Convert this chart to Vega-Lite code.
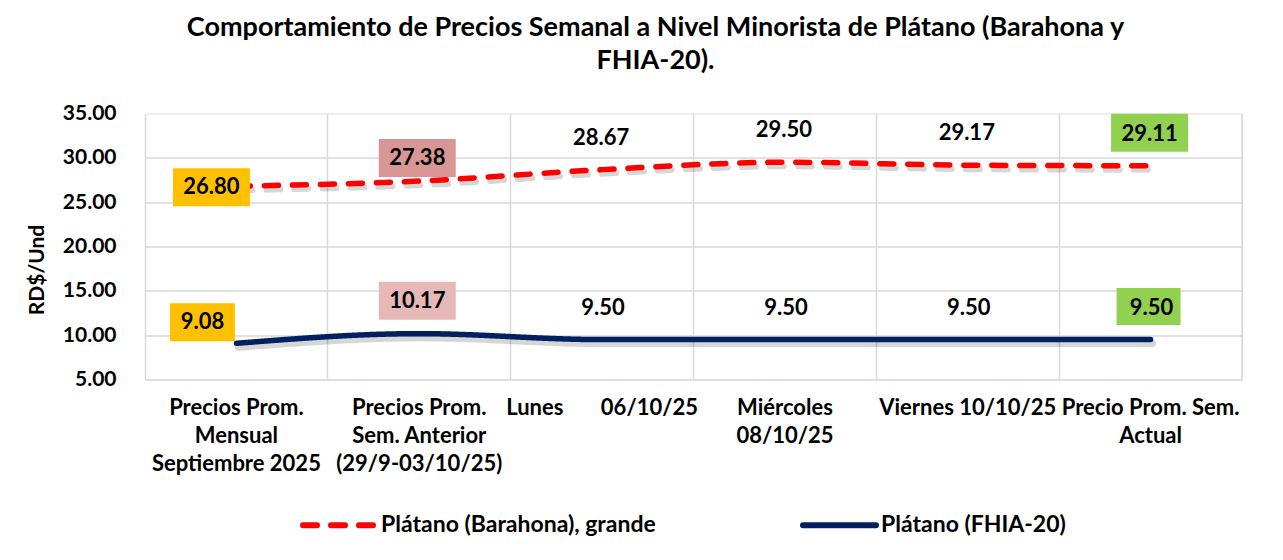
{
  "$schema": "https://vega.github.io/schema/vega-lite/v6.json",
  "autosize": "none",
  "width": 1097,
  "height": 266,
  "padding": {"left": 145, "top": 113.5, "right": 41, "bottom": 180.5},
  "background": "white",
  "title": {
    "text": ["Comportamiento de Precios Semanal a Nivel Minorista de Plátano (Barahona y", "FHIA-20)."],
    "font": "Lato",
    "fontSize": 27,
    "fontWeight": "bold",
    "color": "#000000",
    "anchor": "middle",
    "dx": -38,
    "offset": 28,
    "lineHeight": 33
  },
  "data": {
    "values": [
      {"cat": "Precios Prom.|Mensual|Septiembre 2025", "serie": "Plátano (Barahona), grande", "valor": 26.80},
      {"cat": "Precios Prom.|Sem. Anterior|(29/9-03/10/25)", "serie": "Plátano (Barahona), grande", "valor": 27.38},
      {"cat": "Lunes\u00a0\u00a0\u00a0\u00a0\u00a0\u00a0\u00a006/10/25", "serie": "Plátano (Barahona), grande", "valor": 28.67},
      {"cat": "Miércoles|08/10/25", "serie": "Plátano (Barahona), grande", "valor": 29.50},
      {"cat": "Viernes 10/10/25", "serie": "Plátano (Barahona), grande", "valor": 29.17},
      {"cat": "Precio Prom. Sem.|Actual", "serie": "Plátano (Barahona), grande", "valor": 29.11},
      {"cat": "Precios Prom.|Mensual|Septiembre 2025", "serie": "Plátano (FHIA-20)", "valor": 9.08},
      {"cat": "Precios Prom.|Sem. Anterior|(29/9-03/10/25)", "serie": "Plátano (FHIA-20)", "valor": 10.17},
      {"cat": "Lunes\u00a0\u00a0\u00a0\u00a0\u00a0\u00a0\u00a006/10/25", "serie": "Plátano (FHIA-20)", "valor": 9.50},
      {"cat": "Miércoles|08/10/25", "serie": "Plátano (FHIA-20)", "valor": 9.50},
      {"cat": "Viernes 10/10/25", "serie": "Plátano (FHIA-20)", "valor": 9.50},
      {"cat": "Precio Prom. Sem.|Actual", "serie": "Plátano (FHIA-20)", "valor": 9.50}
    ]
  },
  "encoding": {
    "x": {
      "field": "cat",
      "type": "nominal",
      "scale": {
        "domain": ["Precios Prom.|Mensual|Septiembre 2025", "Precios Prom.|Sem. Anterior|(29/9-03/10/25)", "Lunes\u00a0\u00a0\u00a0\u00a0\u00a0\u00a0\u00a006/10/25", "Miércoles|08/10/25", "Viernes 10/10/25", "Precio Prom. Sem.|Actual"],
        "paddingInner": 0,
        "paddingOuter": 0
      },
      "axis": {
        "title": null,
        "labelAngle": 0,
        "labelExpr": "split(datum.label, '|')",
        "labelFont": "Lato",
        "labelFontSize": 22,
        "labelFontWeight": "bold",
        "labelColor": "#000000",
        "labelPadding": 18,
        "labelLineHeight": 28,
        "labelLimit": 400,
        "labelOverlap": false,
        "labelBound": false,
        "domain": false,
        "ticks": false,
        "tickSize": 0,
        "grid": true,
        "bandPosition": 0,
        "gridColor": "#D9D9D9",
        "gridWidth": 1.5
      }
    },
    "y": {
      "field": "valor",
      "type": "quantitative",
      "scale": {"domain": [5, 35], "nice": false, "zero": false},
      "axis": {
        "title": "RD$/Und",
        "titleFont": "Lato",
        "titleFontSize": 21,
        "titleFontWeight": "bold",
        "titleColor": "#000000",
        "titleAngle": 270,
        "titleAlign": "center",
        "titleBaseline": "middle",
        "titleX": -108,
        "titleY": 156,
        "values": [5, 10, 15, 20, 25, 30, 35],
        "format": ".2f",
        "labelFont": "Lato",
        "labelFontSize": 21,
        "labelFontWeight": "bold",
        "labelColor": "#000000",
        "labelPadding": 29,
        "domain": false,
        "ticks": false,
        "tickSize": 0,
        "grid": true,
        "gridColor": "#D9D9D9",
        "gridWidth": 1.5,
        "gridOpacity": {"condition": {"test": "datum.value == 35", "value": 0}, "value": 1}
      }
    }
  },
  "layer": [
    {
      "transform": [{"filter": {"field": "cat", "equal": "Precio Prom. Sem.|Actual"}}, {"filter": {"field": "serie", "equal": "Plátano (FHIA-20)"}}],
      "mark": {"type": "rule", "color": "#D9D9D9", "strokeWidth": 1.5},
      "encoding": {"x": {"field": "cat", "type": "nominal", "bandPosition": 1}, "y": null}
    },
    {
      "transform": [{"filter": {"field": "serie", "equal": "Plátano (Barahona), grande"}}],
      "mark": {"type": "line", "interpolate": "monotone", "stroke": "#000000", "opacity": 0.16, "strokeWidth": 6, "strokeDash": [14, 14], "strokeCap": "round", "xOffset": 2, "yOffset": 4}
    },
    {
      "transform": [{"filter": {"field": "serie", "equal": "Plátano (FHIA-20)"}}],
      "mark": {"type": "line", "interpolate": "monotone", "stroke": "#000000", "opacity": 0.16, "strokeWidth": 7, "strokeCap": "round", "xOffset": 2, "yOffset": 4}
    },
    {
      "mark": {"type": "line", "interpolate": "monotone", "strokeWidth": 5.5, "strokeCap": "round"},
      "encoding": {
        "color": {
          "field": "serie",
          "type": "nominal",
          "scale": {"domain": ["Plátano (Barahona), grande", "Plátano (FHIA-20)"], "range": ["#FF0000", "#002060"]},
          "legend": {
            "title": null,
            "orient": "none",
            "legendX": 155,
            "legendY": 372,
            "direction": "horizontal",
            "symbolType": "stroke",
            "symbolSize": 5329,
            "symbolStrokeWidth": 6,
            "labelFont": "Lato",
            "labelFontSize": 23,
            "labelFontWeight": "bold",
            "labelColor": "#000000",
            "labelOffset": 2,
            "labelLimit": 400,
            "columnPadding": 135,
            "encode": {"symbols": {"update": {"strokeCap": {"value": "round"}}}}
          }
        },
        "strokeDash": {
          "field": "serie",
          "type": "nominal",
          "scale": {"domain": ["Plátano (Barahona), grande", "Plátano (FHIA-20)"], "range": [[14, 14], [1, 0]]}
        }
      }
    },
    {
      "transform": [{"filter": {"field": "serie", "equal": "Plátano (Barahona), grande"}}, {"filter": {"field": "cat", "equal": "Precios Prom.|Mensual|Septiembre 2025"}}],
      "layer": [
        {"mark": {"type": "point", "shape": "M-1,-0.494L1,-0.494L1,0.494L-1,0.494Z", "size": 5929, "filled": true, "fill": "#FFC000", "opacity": 1, "strokeWidth": 0, "xOffset": -25, "yOffset": 1}},
        {"mark": {"type": "text", "font": "Lato", "fontSize": 22, "fontWeight": "bold", "color": "#000000", "align": "center", "baseline": "middle", "xOffset": -25, "yOffset": 1}, "encoding": {"text": {"field": "valor", "type": "quantitative", "format": ".2f"}}}
      ]
    },
    {
      "transform": [{"filter": {"field": "serie", "equal": "Plátano (Barahona), grande"}}, {"filter": {"field": "cat", "equal": "Precios Prom.|Sem. Anterior|(29/9-03/10/25)"}}],
      "layer": [
        {"mark": {"type": "point", "shape": "M-1,-0.494L1,-0.494L1,0.494L-1,0.494Z", "size": 5929, "filled": true, "fill": "#D99694", "opacity": 1, "strokeWidth": 0, "xOffset": -2, "yOffset": -23}},
        {"mark": {"type": "text", "font": "Lato", "fontSize": 22, "fontWeight": "bold", "color": "#000000", "align": "center", "baseline": "middle", "xOffset": -2, "yOffset": -23}, "encoding": {"text": {"field": "valor", "type": "quantitative", "format": ".2f"}}}
      ]
    },
    {
      "transform": [{"filter": {"field": "serie", "equal": "Plátano (Barahona), grande"}}, {"filter": {"field": "cat", "equal": "Precio Prom. Sem.|Actual"}}],
      "mark": {"type": "point", "shape": "M-1,-0.494L1,-0.494L1,0.494L-1,0.494Z", "size": 5929, "filled": true, "fill": "#92D050", "opacity": 1, "strokeWidth": 0, "xOffset": -1, "yOffset": -33}
    },
    {
      "transform": [{"filter": {"field": "serie", "equal": "Plátano (Barahona), grande"}}, {"filter": {"field": "cat", "oneOf": ["Lunes\u00a0\u00a0\u00a0\u00a0\u00a0\u00a0\u00a006/10/25", "Miércoles|08/10/25", "Viernes 10/10/25", "Precio Prom. Sem.|Actual"]}}],
      "mark": {"type": "text", "font": "Lato", "fontSize": 22, "fontWeight": "bold", "color": "#000000", "align": "center", "baseline": "middle", "xOffset": -1, "yOffset": -32},
      "encoding": {"text": {"field": "valor", "type": "quantitative", "format": ".2f"}}
    },
    {
      "transform": [{"filter": {"field": "serie", "equal": "Plátano (FHIA-20)"}}, {"filter": {"field": "cat", "equal": "Precios Prom.|Mensual|Septiembre 2025"}}],
      "layer": [
        {"mark": {"type": "point", "shape": "M-1,-0.585L1,-0.585L1,0.585L-1,0.585Z", "size": 4225, "filled": true, "fill": "#FFC000", "opacity": 1, "strokeWidth": 0, "xOffset": -34, "yOffset": -21}},
        {"mark": {"type": "text", "font": "Lato", "fontSize": 22, "fontWeight": "bold", "color": "#000000", "align": "center", "baseline": "middle", "xOffset": -34, "yOffset": -21}, "encoding": {"text": {"field": "valor", "type": "quantitative", "format": ".2f"}}}
      ]
    },
    {
      "transform": [{"filter": {"field": "serie", "equal": "Plátano (FHIA-20)"}}, {"filter": {"field": "cat", "equal": "Precios Prom.|Sem. Anterior|(29/9-03/10/25)"}}],
      "layer": [
        {"mark": {"type": "point", "shape": "M-1,-0.494L1,-0.494L1,0.494L-1,0.494Z", "size": 5929, "filled": true, "fill": "#E6B8B7", "opacity": 1, "strokeWidth": 0, "xOffset": -2, "yOffset": -33}},
        {"mark": {"type": "text", "font": "Lato", "fontSize": 22, "fontWeight": "bold", "color": "#000000", "align": "center", "baseline": "middle", "xOffset": -2, "yOffset": -33}, "encoding": {"text": {"field": "valor", "type": "quantitative", "format": ".2f"}}}
      ]
    },
    {
      "transform": [{"filter": {"field": "serie", "equal": "Plátano (FHIA-20)"}}, {"filter": {"field": "cat", "equal": "Precio Prom. Sem.|Actual"}}],
      "mark": {"type": "point", "shape": "M-1,-0.578L1,-0.578L1,0.578L-1,0.578Z", "size": 4096, "filled": true, "fill": "#92D050", "opacity": 1, "strokeWidth": 0, "xOffset": -2, "yOffset": -33}
    },
    {
      "transform": [{"filter": {"field": "serie", "equal": "Plátano (FHIA-20)"}}, {"filter": {"field": "cat", "oneOf": ["Lunes\u00a0\u00a0\u00a0\u00a0\u00a0\u00a0\u00a006/10/25", "Miércoles|08/10/25", "Viernes 10/10/25", "Precio Prom. Sem.|Actual"]}}],
      "mark": {"type": "text", "font": "Lato", "fontSize": 22, "fontWeight": "bold", "color": "#000000", "align": "center", "baseline": "middle", "xOffset": 1, "yOffset": -32},
      "encoding": {"text": {"field": "valor", "type": "quantitative", "format": ".2f"}}
    }
  ]
}
